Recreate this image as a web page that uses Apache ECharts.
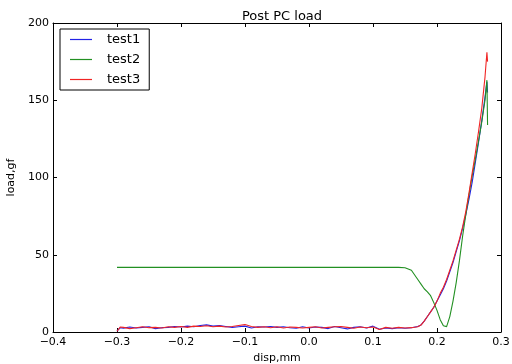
<!DOCTYPE html>
<html>
<head>
<meta charset="utf-8">
<script src="https://cdn.jsdelivr.net/npm/echarts@6/dist/echarts.min.js"></script>
<style>html,body{margin:0;padding:0;background:#fff}#c{width:512px;height:364px}</style>
</head>
<body>
<div id="c"></div>
<script>
const disp = [-0.300, -0.295, -0.29, -0.28, -0.27, -0.26, -0.25, -0.24, -0.23, -0.22, -0.21, -0.20, -0.19, -0.18, -0.17, -0.16, -0.15, -0.14, -0.13, -0.12, -0.11, -0.10, -0.09, -0.08, -0.07, -0.06, -0.05, -0.04, -0.03, -0.02, -0.01, 0.00, 0.01, 0.02, 0.03, 0.04, 0.05, 0.06, 0.07, 0.08, 0.09, 0.10, 0.11, 0.12, 0.13, 0.14, 0.15, 0.16, 0.17, 0.175, 0.18, 0.185, 0.19, 0.195, 0.20, 0.205, 0.21, 0.215, 0.22, 0.225, 0.23, 0.235, 0.24, 0.245, 0.25, 0.255, 0.26, 0.265, 0.27, 0.275, 0.278, 0.279];
const test1 = [0.5, 2.8, 2.5, 3.2, 2.6, 3.0, 3.4, 2.2, 2.8, 3.0, 3.6, 3.2, 3.8, 3.4, 4.2, 4.6, 3.8, 4.2, 3.6, 3.0, 3.4, 3.8, 2.6, 3.4, 3.2, 3.6, 3.0, 3.4, 2.8, 2.4, 3.4, 2.6, 3.2, 3.0, 2.2, 3.6, 2.8, 2.0, 3.0, 3.4, 2.6, 3.8, 1.8, 2.6, 2.2, 2.8, 2.4, 2.8, 3.6, 4.6, 7, 10, 13, 16, 20, 24, 28, 33, 39, 45, 52, 59, 67, 76, 86, 97, 110, 123, 137, 152, 162, 155];
const test2 = [41.8, 41.8, 41.8, 41.8, 41.8, 41.8, 41.8, 41.8, 41.8, 41.8, 41.8, 41.8, 41.8, 41.8, 41.8, 41.8, 41.8, 41.8, 41.8, 41.8, 41.8, 41.8, 41.8, 41.8, 41.8, 41.8, 41.8, 41.8, 41.8, 41.8, 41.8, 41.8, 41.8, 41.8, 41.8, 41.8, 41.8, 41.8, 41.8, 41.8, 41.8, 41.8, 41.8, 41.8, 41.8, 41.8, 41.6, 40, 34, 31, 28, 26, 23.5, 19, 14, 8, 4, 3.5, 10, 20, 32, 46, 62, 76, 89, 101, 112, 124, 136, 150, 163, 134];
const test3 = [0.5, 3.2, 3.0, 2.2, 2.8, 3.4, 2.8, 3.0, 2.6, 3.4, 3.0, 3.6, 3.0, 3.8, 3.6, 4.0, 3.4, 3.8, 3.2, 3.6, 4.2, 4.8, 3.6, 3.0, 3.4, 2.8, 3.4, 2.6, 3.2, 3.0, 2.6, 3.0, 3.4, 2.6, 3.0, 3.4, 3.6, 3.0, 2.4, 3.2, 2.8, 3.2, 1.6, 3.0, 2.4, 3.0, 2.6, 2.8, 3.4, 4.5, 7, 10, 13, 16, 20, 25, 29, 34, 40, 46, 53, 60, 68, 78, 90, 103, 116, 130, 145, 165, 181, 175];
const seriesNames = ['test1', 'test2', 'test3'];
const seriesColors = ['#2222e6', '#229022', '#f02424'];
const xTicks = {min: -0.4, max: 0.3, interval: 0.1};
const yTicks = {min: 0, max: 200, interval: 50};

const font = 'DejaVu Sans';
const fmtX = v => (Math.abs(v) < 1e-9 ? 0 : v).toFixed(1).replace('-', '\u2212');
const baseX = {
  type: 'value', min: xTicks.min, max: xTicks.max, interval: xTicks.interval,
  axisLine: {show: true, onZero: false, lineStyle: {color: '#000', width: 1}},
  axisTick: {show: true, inside: true, length: 4, lineStyle: {color: '#000'}},
  splitLine: {show: false}
};
const baseY = {
  type: 'value', min: yTicks.min, max: yTicks.max, interval: yTicks.interval,
  axisLine: {show: true, onZero: false, lineStyle: {color: '#000', width: 1}},
  axisTick: {show: true, inside: true, length: 4, lineStyle: {color: '#000'}},
  splitLine: {show: false}
};
const data = [test1, test2, test3];
const chart = echarts.init(document.getElementById('c'), null, {renderer: 'canvas'});
chart.setOption({
  animation: false,
  backgroundColor: '#fff',
  title: {text: 'Post PC load', left: 277, top: 5, textAlign: 'center',
    textStyle: {fontFamily: font, fontSize: 13, fontWeight: 'normal', color: '#000'}},
  grid: {left: 53, right: 11, top: 23, bottom: 32, containLabel: false, outerBoundsMode: 'none'},
  legend: {
    left: 60, top: 29, orient: 'vertical', data: seriesNames,
    backgroundColor: '#fff', borderColor: '#000', borderWidth: 1,
    padding: [4, 9, 4, 10], itemGap: 7, itemWidth: 22, itemHeight: 1.2, icon: 'rect',
    textStyle: {fontFamily: font, fontSize: 13, color: '#000', padding: [0, 0, 0, 10]}
  },
  xAxis: [
    Object.assign({}, baseX, {position: 'bottom', name: 'disp,mm', nameLocation: 'middle', nameGap: 20,
      nameTextStyle: {fontFamily: font, fontSize: 11, color: '#000'},
      axisLabel: {fontFamily: font, fontSize: 11, color: '#000', margin: 5, formatter: fmtX}}),
    Object.assign({}, baseX, {position: 'top', axisLabel: {show: false}})
  ],
  yAxis: [
    Object.assign({}, baseY, {position: 'left', name: 'load,gf', nameLocation: 'middle', nameGap: 30,
      nameTextStyle: {fontFamily: font, fontSize: 11, color: '#000'},
      axisLabel: {fontFamily: font, fontSize: 11, color: '#000', margin: 4}}),
    Object.assign({}, baseY, {position: 'right', axisLabel: {show: false}})
  ],
  series: seriesNames.map((n, i) => ({
    name: n, type: 'line', xAxisIndex: 0, yAxisIndex: 0, symbol: 'none',
    color: seriesColors[i],
    lineStyle: {color: seriesColors[i], width: 1.1},
    data: disp.map((x, j) => [x, data[i][j]])
  }))
});
</script>
</body>
</html>
